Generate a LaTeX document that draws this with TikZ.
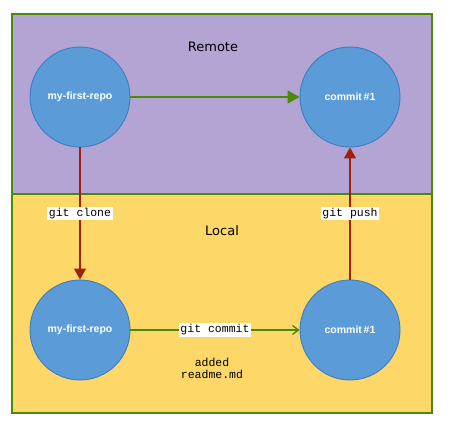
\documentclass[tikz,border=0pt]{standalone}
\usepackage{fontspec}
\setmainfont{DejaVu Sans}
\newfontfamily\arialfont{Liberation Sans}
\setmonofont{Liberation Mono}
\usetikzlibrary{arrows.meta}
\definecolor{purplebg}{HTML}{B3A4D3}
\definecolor{yellowbg}{HTML}{FDD868}
\definecolor{framegreen}{HTML}{4A8A0A}
\definecolor{circfill}{HTML}{5A9BD8}
\definecolor{circline}{HTML}{3E7CC0}
\definecolor{redline}{HTML}{A0200D}
\definecolor{greenline}{HTML}{4A8A0A}
\tikzset{
  area/.style={draw=framegreen, line width=1.3pt},
  repo/.style={circle, fill=circfill, draw=circline, line width=0.9pt, minimum size=100pt, inner sep=0pt, text=white, font=\arialfont\bfseries\fontsize{10.5}{12}\selectfont},
  clonearrow/.style={draw=redline, line width=1.3pt, -{Triangle[length=11pt,width=12pt]}},
  remarrow/.style={draw=greenline, line width=1.3pt, -{Triangle[length=12pt,width=13pt]}},
  commitarrow/.style={draw=greenline, line width=1.3pt, -{Straight Barb[length=6pt,width=9pt,line width=1.3pt]}},
  cmd/.style={fill=white, inner sep=1.5pt, font=\ttfamily\fontsize{11.5}{13}\selectfont},
  title/.style={font=\fontsize{13}{15}\selectfont},
}
\begin{document}
\begin{tikzpicture}[x=1pt,y=-1pt]
\useasboundingbox (0,0) rectangle (452,434);
\fill[white] (0,0) rectangle (452,434);
\filldraw[area, fill=purplebg] (12,14) rectangle (432,194);
\filldraw[area, fill=yellowbg] (12,194) rectangle (432,413);
\node[title] (remote) at (213,47) {Remote};
\node[title] (local) at (222,231) {Local};
\node[repo] (rrepo) at (80,97) {my-first-repo};
\node[repo] (rcommit) at (350,97) {commit\,\#1};
\node[repo] (lrepo) at (80,330) {my-first-repo};
\node[repo] (lcommit) at (350,330) {commit\,\#1};
\draw[remarrow] (rrepo) -- (rcommit);
\draw[clonearrow] (rrepo) -- node[cmd, pos=0.5] (clone) {git clone} (lrepo);
\draw[clonearrow] (lcommit) -- node[cmd, pos=0.5] (push) {git push} (rcommit);
\draw[commitarrow] (lrepo) -- node[cmd] (commit) {git commit} (lcommit);
\node[font=\ttfamily\fontsize{11.5}{12}\selectfont, align=center] (note) at (212,368) {added\\readme.md};
\end{tikzpicture}
\end{document}
